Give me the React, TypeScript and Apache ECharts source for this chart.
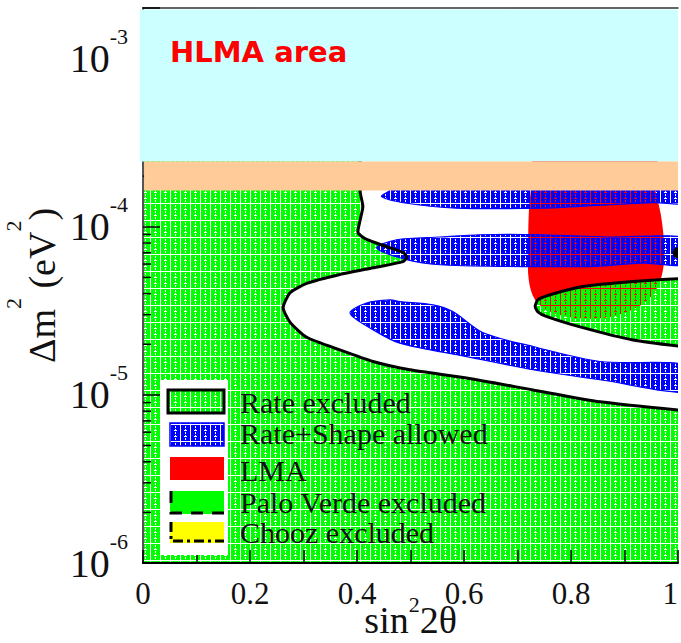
import React, { useEffect, useRef } from 'react';
import * as echarts from 'echarts';

// ---- axis ranges and tick labels ----
const xLabelled = [0, 0.2, 0.4, 0.6, 0.8, 1];
const yMin = 1e-6;
const yMax = 2e-3;
const yMinorTicks = [
  2e-6, 3e-6, 4e-6, 5e-6, 6e-6, 7e-6, 8e-6, 9e-6,
  2e-5, 3e-5, 4e-5, 5e-5, 6e-5, 7e-5, 8e-5, 9e-5,
  2e-4, 3e-4, 4e-4, 5e-4, 6e-4, 7e-4, 8e-4, 9e-4,
];

// ---- regions in (sin²2θ, Δm² [eV²]) ----
// boundary of the rate-only excluded region (everything left of / below it)
const rateExcludedBoundary: [number, number][] = [
  [0.406, 2.9e-4], [0.406, 1.61e-4], [0.411, 1.32e-4], [0.406, 1.1e-4],
  [0.402, 9.2e-5], [0.418, 8.4e-5], [0.456, 7.6e-5], [0.487, 7.0e-5],
  [0.493, 6.6e-5], [0.486, 6.2e-5], [0.43, 5.7e-5], [0.368, 5.2e-5],
  [0.306, 4.6e-5], [0.275, 4.05e-5], [0.262, 3.3e-5], [0.275, 2.7e-5],
  [0.306, 2.2e-5], [0.368, 1.85e-5], [0.43, 1.58e-5], [0.499, 1.41e-5],
  [0.605, 1.26e-5], [0.729, 1.07e-5], [0.854, 9.1e-6], [1.03, 7.95e-6],
];
const rateExcludedCorners: [number, number][] = [
  [1.03, 8e-7], [-0.03, 8e-7], [-0.03, 2.9e-4],
];
// excluded island on the right
const rateExcludedLobe: [number, number][] = [
  [1.03, 4.98e-5], [0.916, 4.72e-5], [0.822, 4.41e-5], [0.761, 3.94e-5],
  [0.738, 3.67e-5], [0.733, 3.35e-5], [0.738, 3.12e-5], [0.755, 2.92e-5],
  [0.822, 2.51e-5], [0.916, 2.12e-5], [1.03, 1.9e-5],
];
// solar LMA solution
const lmaRegion: [number, number][] = [
  [0.733, 2.5e-4], [0.957, 2.5e-4], [0.957, 1.71e-4], [0.968, 1.18e-4],
  [0.974, 7.8e-5], [0.972, 5.54e-5], [0.959, 4.22e-5], [0.929, 3.39e-5],
  [0.873, 2.91e-5], [0.807, 2.87e-5], [0.761, 3.12e-5], [0.733, 3.67e-5],
  [0.721, 4.84e-5], [0.72, 7.3e-5], [0.721, 1.18e-4], [0.725, 1.66e-4],
];
// rate + shape allowed islands
const allowedBandUpper: [number, number][] = [
  [0.446, 1.51e-4], [0.462, 1.66e-4], [0.48, 2.2e-4], [1.03, 2.2e-4],
  [1.03, 1.41e-4], [0.953, 1.39e-4], [0.867, 1.35e-4], [0.742, 1.29e-4],
  [0.586, 1.29e-4], [0.493, 1.38e-4],
];
const allowedBandMiddle: [number, number][] = [
  [0.437, 7.47e-5], [0.474, 8.37e-5], [0.555, 8.69e-5], [0.63, 8.96e-5],
  [0.742, 8.96e-5], [0.867, 8.69e-5], [1.03, 8.45e-5], [1.03, 6.02e-5],
  [0.929, 6.08e-5], [0.848, 5.81e-5], [0.68, 5.81e-5], [0.555, 5.94e-5],
  [0.493, 6.37e-5],
];
const allowedBandLower: [number, number][] = [
  [0.387, 3.06e-5], [0.418, 3.52e-5], [0.462, 3.67e-5], [0.48, 3.59e-5],
  [0.542, 3.43e-5], [0.579, 3.13e-5], [0.636, 2.34e-5], [0.729, 1.94e-5],
  [0.854, 1.58e-5], [1.03, 1.48e-5], [1.03, 1.04e-5], [0.854, 1.23e-5],
  [0.729, 1.41e-5], [0.605, 1.69e-5], [0.48, 2.03e-5], [0.43, 2.44e-5],
];
// best-fit point
const bestFit: [number, number][] = [[1.0, 7.0e-5]];
// shaded HLMA box and its lower strip: [x0, y0, x1, y1]
const hlmaArea = [-0.006, 2.44e-4, 1.0, 1.96e-3];
const hlmaStrip = [0.002, 1.64e-4, 1.0, 2.44e-4];

const legendLabels = [
  'Rate excluded',
  'Rate+Shape allowed',
  'LMA',
  'Palo Verde excluded',
  'Chooz excluded',
];

const SERIF = "'Liberation Serif', 'Times New Roman', serif";
const GREEN = '#00ff00';
const BLUE = '#0000ff';
const RED = '#ff0000';

function makeTile(color: string) {
  const w = 10;
  const h = 17;
  const c = document.createElement('canvas');
  c.width = w;
  c.height = h;
  const g = c.getContext('2d')!;
  g.fillStyle = color;
  g.fillRect(0, 0, w, h);
  g.clearRect(0, 0, 1, h);
  g.clearRect(0, h - 1, w, 1);
  for (let y = 1; y < h - 1; y += 3) g.clearRect(5, y, 1, 2);
  g.clearRect(4, 5, 3, 1);
  g.clearRect(4, 11, 3, 1);
  return { image: c, repeat: 'repeat', imageWidth: w, imageHeight: h };
}

function polygonSeries(name: string, points: [number, number][], z: number, style: any, smooth: number) {
  return {
    type: 'custom',
    name,
    z,
    clip: true,
    silent: true,
    data: points,
    renderItem: (params: any, api: any) => {
      if (params.dataIndex !== 0) return null;
      const pts = points.map((p) => api.coord(p));
      return { type: 'polygon', shape: { points: pts, smooth }, style };
    },
  };
}

function lineSeries(name: string, points: [number, number][], z: number) {
  return {
    type: 'custom',
    name,
    z,
    clip: true,
    silent: true,
    data: points,
    renderItem: (params: any, api: any) => {
      if (params.dataIndex !== 0) return null;
      const pts = points.map((p) => api.coord(p));
      return {
        type: 'polyline',
        shape: { points: pts, smooth: 0.2 },
        style: { stroke: '#000', lineWidth: 3, fill: null },
      };
    },
  };
}

function boxSeries(name: string, box: number[], color: string, z: number) {
  return {
    type: 'custom',
    name,
    z,
    silent: true,
    data: [box],
    renderItem: (_p: any, api: any) => {
      const a = api.coord([api.value(0), api.value(3)]);
      const b = api.coord([api.value(2), api.value(1)]);
      return {
        type: 'rect',
        shape: { x: a[0], y: a[1], width: b[0] - a[0], height: b[1] - a[1] },
        style: { fill: color },
      };
    },
  };
}

export default function App() {
  const ref = useRef<HTMLDivElement>(null);

  useEffect(() => {
    const chart = echarts.init(ref.current!, null, { renderer: 'svg' });
    const greenPattern = makeTile(GREEN);
    const bluePattern = makeTile(BLUE);

    const axisText = { fontFamily: SERIF, color: '#111' };
    const legendY = [402, 433, 470, 502, 532];

    const option: any = {
      animation: false,
      backgroundColor: '#fff',
      grid: {
        left: 143, right: 3, top: 8, bottom: 80,
        outerBoundsMode: 'none',
        containLabel: false,
        show: true, backgroundColor: '#fff', borderWidth: 0,
      },
      xAxis: [
        {
          type: 'value', min: 0, max: 1, interval: 0.1, position: 'bottom', z: 10,
          axisLine: { lineStyle: { color: '#000', width: 2 } },
          axisTick: { inside: true, length: 13, lineStyle: { color: '#000', width: 1.5 } },
          splitLine: { show: false },
          axisLabel: {
            margin: 20, ...axisText, fontSize: 31, lineHeight: 20,
            alignMaxLabel: 'right',
            formatter: (v: number) => {
              const l = xLabelled.find((t) => Math.abs(t - v) < 1e-6);
              return l === undefined ? '' : String(l);
            },
          },
          name: '{v| }{t|sin}{s|2}{t|2θ}',
          nameLocation: 'middle',
          nameGap: 30,
          nameMoveOverlap: false,
          nameTextStyle: {
            rich: {
              v: { fontSize: 1, lineHeight: 46 },
              t: { ...axisText, fontSize: 38, lineHeight: 26, verticalAlign: 'bottom' },
              s: { ...axisText, fontSize: 22, lineHeight: 22, verticalAlign: 'top' },
            },
          },
        },
        {
          type: 'value', min: 0, max: 1, position: 'top', z: 10,
          axisLine: { lineStyle: { color: '#333', width: 1.5 } },
          axisTick: { show: false }, axisLabel: { show: false }, splitLine: { show: false },
        },
      ],
      yAxis: [
        {
          type: 'log', logBase: 10, min: yMin, max: yMax, z: 10,
          axisLine: { lineStyle: { color: '#000', width: 2 } },
          axisTick: { inside: true, length: 17, lineStyle: { color: '#000', width: 1.5 } },
          splitLine: { show: false },
          axisLabel: {
            margin: 15,
            formatter: (v: number) => {
              const e = Math.log10(v);
              const r = Math.round(e);
              if (Math.abs(e - r) > 1e-6) return '';
              return `{b|10}{s|${r}}`;
            },
            rich: {
              b: { ...axisText, fontSize: 40, lineHeight: 66 },
              s: { ...axisText, fontSize: 22, lineHeight: 22, verticalAlign: 'top' },
            },
          },
          name: '{t|Δm}{s|2}{t| (eV}{s|2}{t|)}',
          nameLocation: 'middle',
          nameRotate: 90,
          nameGap: 61,
          nameMoveOverlap: false,
          nameTextStyle: {
            rich: {
              t: { ...axisText, fontSize: 38, lineHeight: 80 },
              s: { ...axisText, fontSize: 22, lineHeight: 22, verticalAlign: 'top' },
            },
          },
        },
        {
          type: 'log', logBase: 10, min: yMin, max: yMax, position: 'right', z: 10,
          axisLine: { lineStyle: { color: '#555', width: 2 } },
          axisTick: { show: false }, axisLabel: { show: false }, splitLine: { show: false },
        },
      ],
      series: [
        polygonSeries('LMA', lmaRegion, 2, { fill: RED }, 0.35),
        polygonSeries('Rate excluded', [...rateExcludedBoundary, ...rateExcludedCorners], 3,
          { fill: greenPattern }, 0),
        polygonSeries('Rate excluded (island)', rateExcludedLobe, 3, { fill: greenPattern }, 0),
        polygonSeries('Rate+Shape allowed', allowedBandUpper, 4,
          { fill: bluePattern, stroke: BLUE, lineWidth: 1.2 }, 0.3),
        polygonSeries('Rate+Shape allowed (middle)', allowedBandMiddle, 4,
          { fill: bluePattern, stroke: BLUE, lineWidth: 1.2 }, 0.3),
        polygonSeries('Rate+Shape allowed (lower)', allowedBandLower, 4,
          { fill: bluePattern, stroke: BLUE, lineWidth: 1.2 }, 0.3),
        lineSeries('Rate contour', rateExcludedBoundary, 5),
        lineSeries('Rate contour (island)', rateExcludedLobe, 5),
        {
          type: 'custom', name: 'Best fit', z: 6, clip: true, silent: true,
          data: bestFit,
          renderItem: (_p: any, api: any) => {
            const c = api.coord([api.value(0), api.value(1)]);
            return { type: 'circle', shape: { cx: c[0], cy: c[1], r: 5.5 }, style: { fill: '#000' } };
          },
        },
        {
          type: 'custom', name: 'minor ticks', z: 11, silent: true,
          data: yMinorTicks.map((v) => [0, v]),
          renderItem: (_p: any, api: any) => {
            const c = api.coord([0, api.value(1)]);
            return {
              type: 'line',
              shape: { x1: c[0], y1: c[1], x2: c[0] + 8, y2: c[1] },
              style: { stroke: '#000', lineWidth: 1.5 },
            };
          },
        },
        boxSeries('HLMA area', hlmaArea, '#ccffff', 20),
        boxSeries('HLMA strip', hlmaStrip, '#ffcc99', 20),
      ],
      graphic: {
        elements: [
          {
            type: 'text', z: 60, x: 170, y: 52,
            style: {
              text: 'HLMA area', fill: RED, font: "bold 29px 'Comic Sans MS', 'DejaVu Sans', sans-serif",
              verticalAlign: 'middle', align: 'left',
            },
          },
          { type: 'rect', z: 50, shape: { x: 160, y: 380, width: 68, height: 175 }, style: { fill: '#fff' } },
          {
            type: 'rect', z: 51, shape: { x: 168, y: 390, width: 56, height: 23 },
            style: { fill: greenPattern, stroke: '#000', lineWidth: 3 },
          },
          {
            type: 'rect', z: 51, shape: { x: 170, y: 423, width: 54, height: 23 },
            style: { fill: bluePattern, stroke: BLUE, lineWidth: 1.5 },
          },
          { type: 'rect', z: 51, shape: { x: 170, y: 457, width: 54, height: 23 }, style: { fill: RED } },
          { type: 'rect', z: 51, shape: { x: 170, y: 491, width: 54, height: 23 }, style: { fill: GREEN } },
          {
            type: 'polyline', z: 52, shape: { points: [[171, 491], [171, 513], [224, 513]] },
            style: { stroke: '#000', lineWidth: 3, lineDash: [12, 9], fill: null },
          },
          { type: 'rect', z: 51, shape: { x: 170, y: 522, width: 54, height: 21 }, style: { fill: '#ffff00' } },
          {
            type: 'polyline', z: 52, shape: { points: [[171, 522], [171, 541], [224, 541]] },
            style: { stroke: '#000', lineWidth: 3, lineDash: [10, 4, 3, 4], fill: null },
          },
          ...legendLabels.map((t, i) => ({
            type: 'text', z: 52, x: 240, y: legendY[i],
            style: {
              text: t, fill: '#111', font: `30px ${SERIF}`,
              verticalAlign: 'middle', align: 'left',
            },
          })),
        ],
      },
    };

    chart.setOption(option);
    return () => chart.dispose();
  }, []);

  return (
    <div
      ref={ref}
      style={{ position: 'fixed', left: 0, top: 0, width: 681, height: 643 }}
    />
  );
}
